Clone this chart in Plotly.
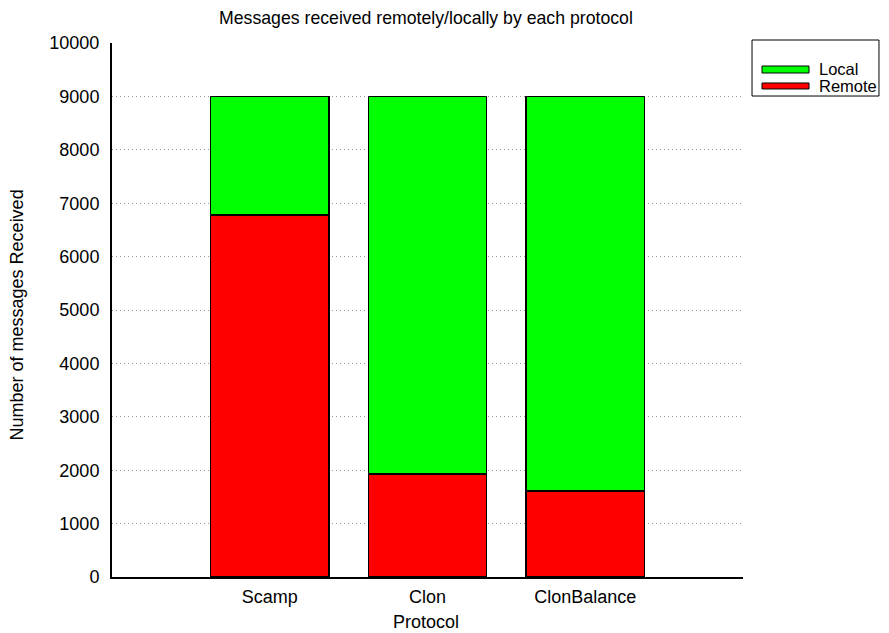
import plotly.graph_objects as go

protocols = ["Scamp", "Clon", "ClonBalance"]
remote = [6780, 1930, 1610]
local = [2220, 7070, 7390]
y_ticks = [0, 1000, 2000, 3000, 4000, 5000, 6000, 7000, 8000, 9000, 10000]
series_names = ["Local", "Remote"]
series_colors = {"Local": "#00ff00", "Remote": "#ff0000"}

FONT = "Liberation Sans, Arial, sans-serif"

fig = go.Figure()
fig.add_trace(go.Bar(x=protocols, y=remote, name="Remote", width=0.75, showlegend=False,
                     marker=dict(color=series_colors["Remote"], line=dict(color="black", width=1.2))))
fig.add_trace(go.Bar(x=protocols, y=local, name="Local", width=0.75, showlegend=False,
                     marker=dict(color=series_colors["Local"], line=dict(color="black", width=1.2))))

# custom legend (box with wide swatches like the reference)
shapes = [dict(type="rect", xref="paper", yref="paper", x0=1.0143, x1=1.2155, y0=0.9007, y1=1.0056,
               line=dict(color="black", width=1), fillcolor="white", layer="above")]
annotations = []
sw_y = {"Local": (0.9438, 0.9569, 0.9513), "Remote": (0.9139, 0.9251, 0.9195)}
for nm in series_names:
    y0, y1, yt = sw_y[nm]
    shapes.append(dict(type="rect", xref="paper", yref="paper", x0=1.0301, x1=1.1046, y0=y0, y1=y1,
                       line=dict(color="black", width=1), fillcolor=series_colors[nm], layer="above"))
    annotations.append(dict(text=nm, xref="paper", yref="paper", x=1.1173, y=yt, xanchor="left",
                            yanchor="middle", showarrow=False, font=dict(size=16.5, family=FONT)))

annotations.append(dict(text="Protocol", xref="paper", yref="paper", x=0.4976, y=-0.0843,
                        xanchor="center", yanchor="middle", showarrow=False,
                        font=dict(size=18, family=FONT)))
annotations.append(dict(text="Number of messages Received", xref="paper", yref="paper",
                        x=-0.149, y=0.4916, xanchor="center", yanchor="middle", textangle=-90,
                        showarrow=False, font=dict(size=18, family=FONT)))
annotations.append(dict(text="Messages received remotely/locally by each protocol",
                        xref="paper", yref="paper", x=0.497, y=1.0459,
                        xanchor="center", yanchor="middle", showarrow=False,
                        font=dict(size=17.7, family=FONT)))

fig.update_layout(
    barmode="stack",
    width=889, height=633,
    margin=dict(l=104, r=154, t=35, b=64),
    paper_bgcolor="white", plot_bgcolor="white",
    font=dict(family=FONT, size=18, color="black"),
    showlegend=False,
    shapes=shapes,
    annotations=annotations,
    xaxis=dict(range=[-1, 3], showline=True, linecolor="black", linewidth=2,
               showgrid=False, ticks="", tickfont=dict(size=18), ticklabelstandoff=2),
    yaxis=dict(range=[0, 10000], tickvals=y_ticks, ticktext=[str(v) for v in y_ticks],
               showline=True, linecolor="black", linewidth=2,
               showgrid=True, gridcolor="#999999", griddash="1px,3px", gridwidth=1,
               ticks="", tickfont=dict(size=18), zeroline=False, ticklabelstandoff=7),
)

fig.write_html("out.html")
